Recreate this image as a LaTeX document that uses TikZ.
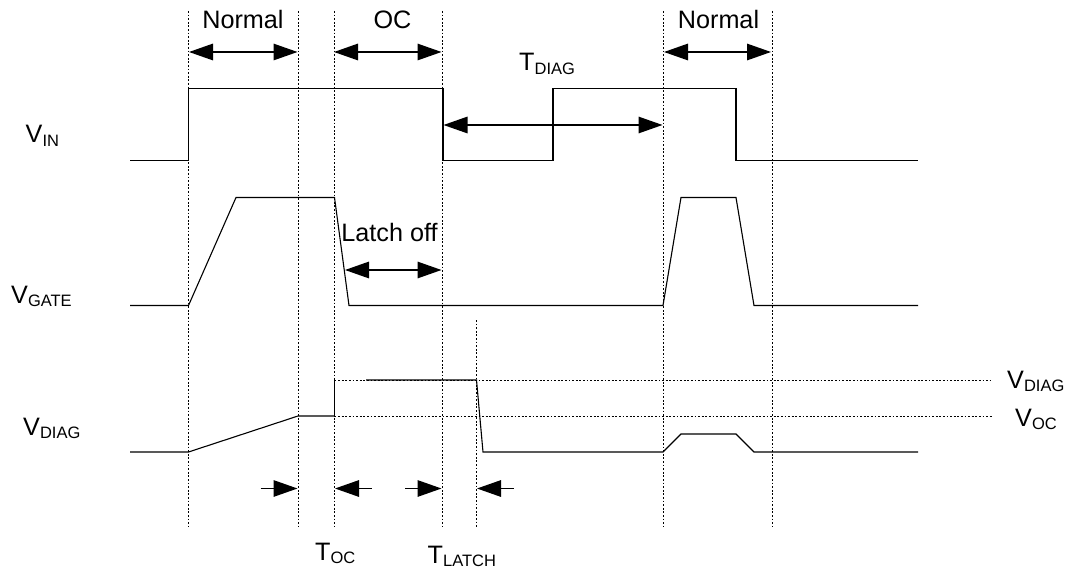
\documentclass[tikz,border=0pt]{standalone}
\usepackage{fontspec}
\setmainfont{Liberation Sans}
\usetikzlibrary{arrows.meta}
\tikzset{
  x=1pt,y=-1pt,
  wave/.style={draw=black,line width=1.1pt,line join=miter},
  guide/.style={draw=black,line width=1pt,dash pattern=on 1.8pt off 1.8pt},
  span/.style={draw=black,line width=1.4pt,{Triangle[length=24pt,width=16.5pt]}-{Triangle[length=24pt,width=16.5pt]}},
  inarrow/.style={draw=black,line width=1.4pt,-{Triangle[length=24pt,width=16.5pt]}},
  lbl/.style={inner sep=0pt,font=\fontsize{25.2}{25.2}\selectfont,text=black},
}
\newcommand{\subs}[1]{\raisebox{-3.8pt}{\fontsize{16.5}{16.5}\selectfont #1}}
\begin{document}
\begin{tikzpicture}
\useasboundingbox (0,0) rectangle (1067,569);
\fill[white] (0,0) rectangle (1067,569);
% guide coordinates
\foreach \n/\x in {a/188.5,b/298,c/334.5,d/442,f/663,g/772}{
  \coordinate (\n t) at (\x,11);
  \coordinate (\n b) at (\x,526);
  \draw[guide] (\n t) -- (\n b);
}
\coordinate (et) at (476.5,320);
\coordinate (eb) at (476.5,527);
\draw[guide] (et) -- (eb);
\coordinate (h1a) at (334.5,380); \coordinate (h1b) at (990,380);
\coordinate (h2a) at (334.5,416); \coordinate (h2b) at (992,416);
\draw[guide] (h1a) -- (h1b);
\draw[guide] (h2a) -- (h2b);
% waveforms
\draw[wave] (130,160.5) -- (188.5,160.5) -- (188.5,88.5) -- (443,88.5) -- (443,160.5) -- (553,160.5) -- (553,88.5) -- (736,88.5) -- (736,160.5) -- (918,160.5);
\draw[wave] (130,305.5) -- (188.5,305.5) -- (236,197.5) -- (334.5,197.5) -- (349,305.5) -- (663,305.5) -- (681,197.5) -- (736,197.5) -- (754,305.5) -- (918,305.5);
\draw[wave] (130,452) -- (188.5,452) -- (298,416) -- (334.5,416);
\draw[wave,line width=1.6pt] (334.5,416.5) -- (334.5,380);
\draw[wave] (366,380) -- (476.5,380) -- (483,452) -- (663,452) -- (681,434) -- (736,434) -- (754,452) -- (918,452);
% span arrows
\coordinate (n1l) at (189,52); \coordinate (n1r) at (297.5,52);
\coordinate (ocl) at (334,52); \coordinate (ocr) at (441.5,52);
\coordinate (n2l) at (664,52); \coordinate (n2r) at (771,52);
\coordinate (tdl) at (443.5,125); \coordinate (tdr) at (662.5,125);
\coordinate (lol) at (345,270); \coordinate (lor) at (441.5,270);
\draw[span] (n1l) -- (n1r);
\draw[span] (ocl) -- (ocr);
\draw[span] (n2l) -- (n2r);
\draw[span] (tdl) -- (tdr);
\draw[span] (lol) -- (lor);
% timing arrows
\coordinate (p1) at (260.5,488.5); \coordinate (p1e) at (297.5,488.5);
\coordinate (p2) at (371.5,488.5); \coordinate (p2e) at (335,488.5);
\coordinate (p3) at (405,488.5); \coordinate (p3e) at (441.5,488.5);
\coordinate (p4) at (513.5,488.5); \coordinate (p4e) at (477,488.5);
\draw[inarrow] (p1) -- (p1e);
\draw[inarrow] (p2) -- (p2e);
\draw[inarrow] (p3) -- (p3e);
\draw[inarrow] (p4) -- (p4e);
% labels
\node[lbl,anchor=base] (tn1) at (243,29) {Normal};
\node[lbl,anchor=base] (toc) at (392.5,29) {OC};
\node[lbl,anchor=base] (tn2) at (718.5,29) {Normal};
\node[lbl,anchor=base] (tlo) at (389.5,241.5) {Latch off};
\node[lbl,anchor=base west] (ttd) at (519,71) {T\subs{DIAG}};
\node[lbl,anchor=base west] (tvin) at (25.5,143) {V\subs{IN}};
\node[lbl,anchor=base west] (tvg) at (11,303) {V\subs{GATE}};
\node[lbl,anchor=base west] (tvd) at (23,435) {V\subs{DIAG}};
\node[lbl,anchor=base west] (tvd2) at (1007,388) {V\subs{DIAG}};
\node[lbl,anchor=base west] (tvo) at (1015,426) {V\subs{OC}};
\node[lbl,anchor=base west] (ttoc) at (315,560) {T\subs{OC}};
\node[lbl,anchor=base west] (ttl) at (427.5,563) {T\subs{LATCH}};
\end{tikzpicture}
\end{document}
